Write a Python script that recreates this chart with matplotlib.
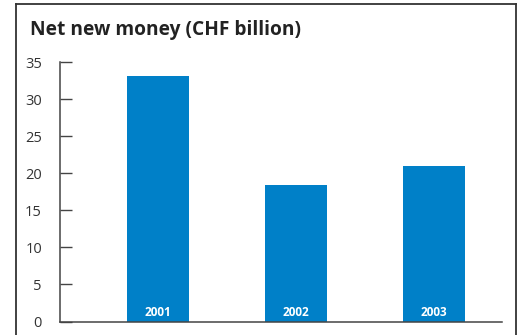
import matplotlib
matplotlib.use("Agg")
import matplotlib.pyplot as plt
from matplotlib.lines import Line2D

years = ["2001", "2002", "2003"]
net_new_money = [33.2, 18.4, 21.0]
y_ticks = [0, 5, 10, 15, 20, 25, 30, 35]

plt.rcParams["font.family"] = ["Open Sans", "DejaVu Sans"]

W, H = 520, 335
fig = plt.figure(figsize=(W / 100, H / 100), dpi=100)

# outer frame (open at the bottom edge)
frame_color = "#333333"
fx0, fx1, fy1 = 15.5 / W, 515.5 / W, 1 - 3.5 / H
fig.add_artist(Line2D([fx0, fx0], [-0.01, fy1], transform=fig.transFigure,
                      color=frame_color, lw=1.3))
fig.add_artist(Line2D([fx1, fx1], [-0.01, fy1], transform=fig.transFigure,
                      color=frame_color, lw=1.3))
fig.add_artist(Line2D([fx0, fx1], [fy1, fy1], transform=fig.transFigure,
                      color=frame_color, lw=1.3))

fig.text(30 / W, 1 - 30 / H, "Net new money (CHF billion)", fontsize=13.8,
         fontweight="bold", color="#222222", va="center", ha="left")

ax = fig.add_axes([60 / W, 13.5 / H, (502 - 60) / W, (321.5 - 62.3) / H])
x = list(range(len(years)))
bars = ax.bar(x, net_new_money, width=0.45, color="#0080C8", zorder=2)

for xi, label in zip(x, years):
    ax.text(xi, 1.2, label, ha="center", va="center", color="white",
            fontsize=8.5, fontweight="bold", zorder=3)

ax.set_xlim(-0.71, 2.493)
ax.set_ylim(0, 35)
ax.set_yticks(y_ticks)
ax.set_yticklabels([str(t) for t in y_ticks])
ax.set_xticks([])
for s in ["top", "right"]:
    ax.spines[s].set_visible(False)
for s in ["left", "bottom"]:
    ax.spines[s].set_color("#444444")
    ax.spines[s].set_linewidth(1.1)
ax.tick_params(axis="y", direction="in", length=8.5, width=1.0,
               color="#444444", labelsize=10.5, labelcolor="#333333", pad=13)

fig.savefig("out.png", dpi=100)
